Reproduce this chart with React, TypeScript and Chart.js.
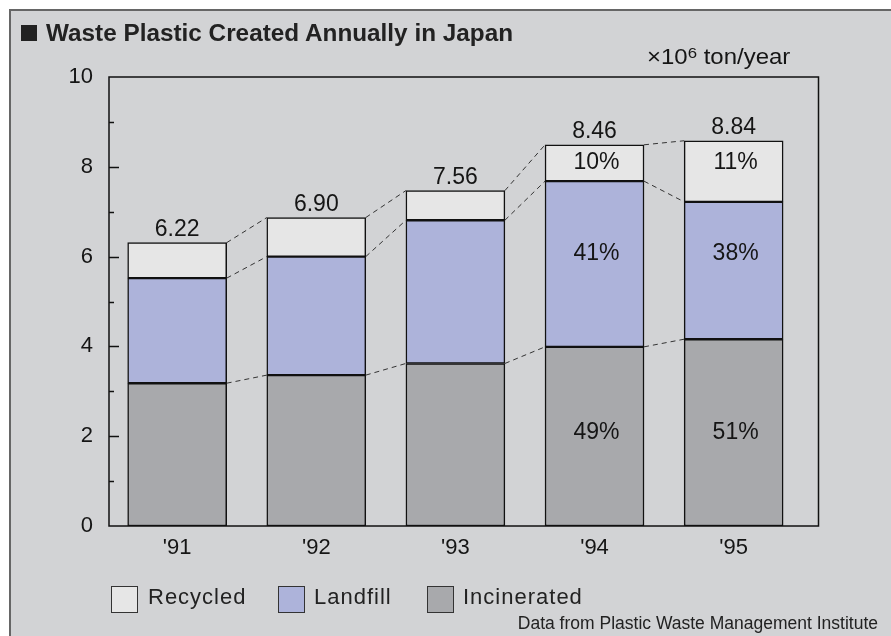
import React, { useEffect, useRef } from "react";
import { Chart, registerables } from "chart.js";

Chart.register(...registerables);

// ---- data ----
const years = ["'91", "'92", "'93", "'94", "'95"];
const incinerated = [3.18, 3.36, 3.62, 3.99, 4.16];
const landfill = [2.34, 2.64, 3.19, 3.69, 3.06];
const recycled = [0.79, 0.87, 0.66, 0.81, 1.36];
const totalLabels = ["6.22", "6.90", "7.56", "8.46", "8.84"];
const incineratedPct = ["", "", "", "49%", "51%"];
const landfillPct = ["", "", "", "41%", "38%"];
const recycledPct = ["", "", "", "10%", "11%"];
const pctLevels = [2.07, 6.06, 8.1]; // value heights of the percentage rows
const yTickValues = [0, 2, 4, 6, 8, 10];

const FONT = '"Liberation Sans", Arial, Helvetica, sans-serif';
const COLORS = {
  bg: "#d2d3d5",
  recycled: "#e6e6e6",
  landfill: "#adb3da",
  incinerated: "#a8a9ac",
  ink: "#151515",
};
const BAR_W = 99;

const overlayPlugin = {
  id: "overlay",
  afterDatasetsDraw(chart: any) {
    const { ctx, chartArea: a, scales } = chart;
    const x = scales.x;
    const y = scales.y;
    const half = BAR_W / 2;
    const cum = years.map((_, i) => [
      incinerated[i],
      incinerated[i] + landfill[i],
      incinerated[i] + landfill[i] + recycled[i],
    ]);
    ctx.save();
    // dashed connectors
    ctx.setLineDash([5, 4]);
    ctx.strokeStyle = "#333";
    ctx.lineWidth = 1;
    for (let i = 0; i < years.length - 1; i++) {
      for (let k = 0; k < 3; k++) {
        ctx.beginPath();
        ctx.moveTo(x.getPixelForValue(i) + half, y.getPixelForValue(cum[i][k]));
        ctx.lineTo(x.getPixelForValue(i + 1) - half, y.getPixelForValue(cum[i + 1][k]));
        ctx.stroke();
      }
    }
    ctx.setLineDash([]);
    // frame
    ctx.strokeStyle = "#111";
    ctx.lineWidth = 1.5;
    ctx.strokeRect(a.left, a.top, a.right - a.left, a.bottom - a.top);
    // inward ticks on y axis
    for (let v = 1; v < 10; v++) {
      const py = Math.round(y.getPixelForValue(v)) + 0.5;
      const len = v % 2 === 0 ? 10 : 5;
      ctx.beginPath();
      ctx.moveTo(a.left, py);
      ctx.lineTo(a.left + len, py);
      ctx.stroke();
    }
    // texts
    ctx.fillStyle = COLORS.ink;
    ctx.font = `23px ${FONT}`;
    ctx.textAlign = "center";
    ctx.textBaseline = "alphabetic";
    years.forEach((_, i) => {
      ctx.fillText(totalLabels[i], x.getPixelForValue(i), y.getPixelForValue(cum[i][2]) - 7);
    });
    ctx.textBaseline = "middle";
    const rows = [incineratedPct, landfillPct, recycledPct];
    rows.forEach((row, k) => {
      row.forEach((t, i) => {
        if (t) ctx.fillText(t, x.getPixelForValue(i) + 2, y.getPixelForValue(pctLevels[k]));
      });
    });
    ctx.restore();
  },
};

function WasteChart() {
  const ref = useRef<HTMLCanvasElement | null>(null);
  useEffect(() => {
    if (!ref.current) return;
    const mk = (vals: number[]) => vals.map((v, i) => ({ x: i, y: v }));
    const common = {
      barThickness: BAR_W,
      borderColor: "#111",
      borderWidth: 1.5,
      borderSkipped: false,
    };
    const chart = new Chart(ref.current, {
      type: "bar",
      data: {
        datasets: [
          { label: "Incinerated", data: mk(incinerated), backgroundColor: COLORS.incinerated, ...common },
          { label: "Landfill", data: mk(landfill), backgroundColor: COLORS.landfill, ...common },
          { label: "Recycled", data: mk(recycled), backgroundColor: COLORS.recycled, ...common },
        ],
      } as any,
      options: {
        animation: false,
        responsive: true,
        maintainAspectRatio: false,
        layout: { padding: { left: 0, right: 72.5, top: 77, bottom: 70 } },
        plugins: { legend: { display: false }, tooltip: { enabled: false }, title: { display: false } },
        scales: {
          x: {
            type: "linear",
            stacked: true,
            offset: false,
            min: -0.49,
            max: 4.61,
            grid: { display: false, drawTicks: false, offset: false },
            border: { display: false },
            afterBuildTicks: (scale: any) => {
              scale.ticks = years.map((_, i) => ({ value: i }));
            },
            afterFit: (scale: any) => {
              scale.height = 40;
            },
            ticks: {
              padding: 9,
              color: COLORS.ink,
              font: { family: FONT, size: 22 },
              callback: (v: any) => years[v] ?? "",
              maxRotation: 0,
              autoSkip: false,
            },
          },
          y: {
            stacked: true,
            min: 0,
            max: 10,
            grid: { display: false, drawTicks: false },
            border: { display: false },
            afterBuildTicks: (scale: any) => {
              scale.ticks = yTickValues.map((v) => ({ value: v }));
            },
            afterFit: (scale: any) => {
              scale.width = 109;
            },
            ticks: {
              padding: 16,
              color: COLORS.ink,
              font: { family: FONT, size: 22 },
            },
          },
        },
      } as any,
      plugins: [overlayPlugin],
    });
    return () => chart.destroy();
  }, []);
  return <canvas ref={ref} />;
}

const legendItems = [
  { label: "Recycled", color: COLORS.recycled, box: 111, text: 148 },
  { label: "Landfill", color: COLORS.landfill, box: 278, text: 314 },
  { label: "Incinerated", color: COLORS.incinerated, box: 427, text: 463 },
];

export default function App() {
  return (
    <div
      style={{
        position: "absolute",
        left: 0,
        top: 0,
        width: 891,
        height: 636,
        overflow: "hidden",
        background: "#fff",
        fontFamily: FONT,
        color: COLORS.ink,
      }}
    >
      <div
        style={{
          position: "absolute",
          left: 9,
          top: 9,
          width: 950,
          height: 700,
          border: "2px solid #666",
          background: COLORS.bg,
        }}
      />
      <div style={{ position: "absolute", left: 0, top: 0, width: 891, height: 636 }}>
        <WasteChart />
      </div>
      {/* title */}
      <div
        style={{
          position: "absolute",
          left: 21,
          top: 22,
          height: 22,
          display: "flex",
          alignItems: "center",
          whiteSpace: "nowrap",
        }}
      >
        <span style={{ display: "inline-block", width: 16, height: 16, background: "#222", marginRight: 9 }} />
        <span
          style={{
            display: "inline-block",
            fontWeight: "bold",
            fontSize: 23,
            lineHeight: "22px",
            transform: "scaleX(1.057)",
            transformOrigin: "left center",
            color: "#222",
          }}
        >
          Waste Plastic Created Annually in Japan
        </span>
      </div>
      {/* unit */}
      <div
        style={{
          position: "absolute",
          left: 647,
          top: 46,
          fontSize: 22,
          lineHeight: "22px",
          whiteSpace: "nowrap",
          transform: "scaleX(1.09)",
          transformOrigin: "left center",
        }}
      >
        ×10<span style={{ fontSize: "0.7em", position: "relative", top: "-0.42em" }}>6</span> ton/year
      </div>
      {/* legend */}
      {legendItems.map((it) => (
        <React.Fragment key={it.label}>
          <div
            style={{
              position: "absolute",
              left: it.box,
              top: 586,
              width: 27,
              height: 27,
              boxSizing: "border-box",
              border: "1.5px solid #333",
              background: it.color,
            }}
          />
          <div
            style={{
              position: "absolute",
              left: it.text,
              top: 586,
              fontSize: 22,
              lineHeight: "22px",
              letterSpacing: "1px",
              whiteSpace: "nowrap",
              color: "#222",
            }}
          >
            {it.label}
          </div>
        </React.Fragment>
      ))}
      {/* source */}
      <div
        style={{
          position: "absolute",
          right: 13,
          top: 615,
          fontSize: 17.5,
          lineHeight: "17.5px",
          whiteSpace: "nowrap",
          color: "#222",
        }}
      >
        Data from Plastic Waste Management Institute
      </div>
    </div>
  );
}
